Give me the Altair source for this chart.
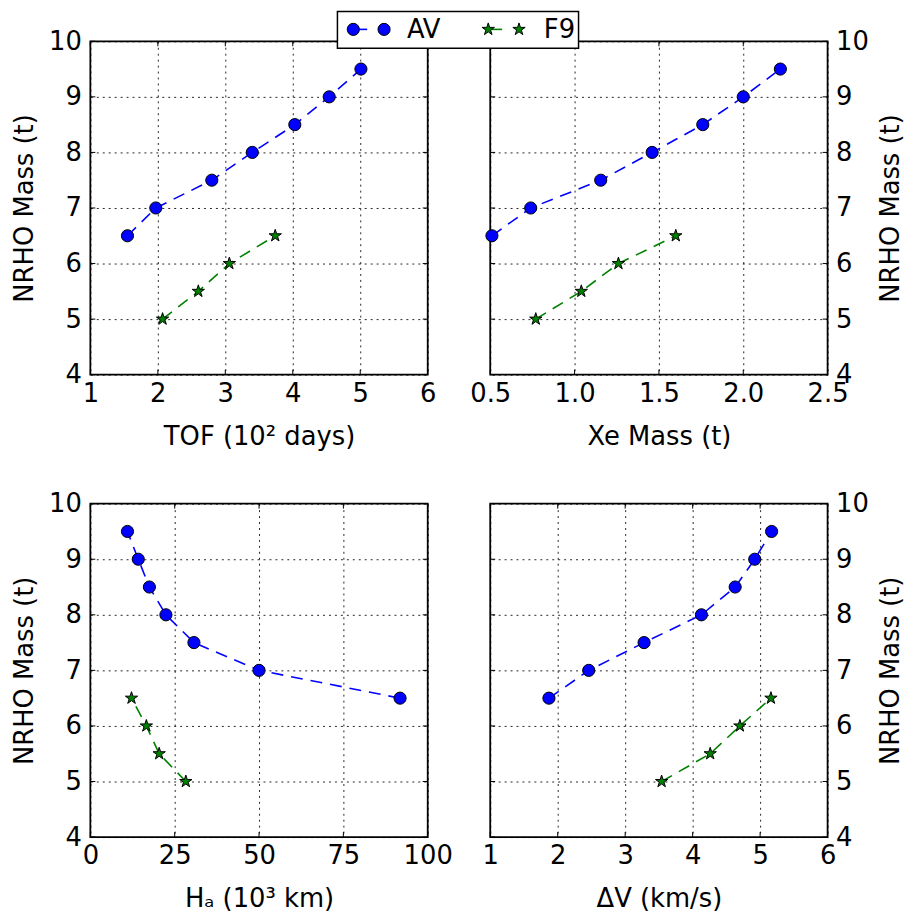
import altair as alt
import pandas as pd

# ---------------- data ----------------
series = ["AV", "F9"]
av_mass = [6.5, 7.0, 7.5, 8.0, 8.5, 9.0, 9.5]
f9_mass = [5.0, 5.5, 6.0, 6.5]

av_tof = [1.55, 1.97, 2.80, 3.40, 4.03, 4.54, 5.01]
f9_tof = [2.07, 2.60, 3.06, 3.74]

av_xe = [0.51, 0.74, 1.155, 1.46, 1.76, 2.00, 2.22]
f9_xe = [0.77, 1.04, 1.26, 1.60]

av_ha = [91.8, 50.0, 30.7, 22.4, 17.5, 14.2, 11.0]
f9_ha = [28.3, 20.4, 16.6, 12.2]

av_dv = [1.87, 2.46, 3.28, 4.13, 4.63, 4.92, 5.17]
f9_dv = [3.54, 4.26, 4.70, 5.16]

y_ticks = [4, 5, 6, 7, 8, 9, 10]
tof_ticks = [1, 2, 3, 4, 5, 6]
xe_ticks = [0.5, 1.0, 1.5, 2.0, 2.5]
ha_ticks = [0, 25, 50, 75, 100]
dv_ticks = [1, 2, 3, 4, 5, 6]

# ---------------- styling ----------------
FONT = "DejaVu Sans"
BLUE = "#0000ff"
GREEN = "#008000"
STAR = ("M0,-1L0.2245,-0.309L0.951,-0.309L0.363,0.118L0.588,0.809L0,0.382"
        "L-0.588,0.809L-0.363,0.118L-0.951,-0.309L-0.2245,-0.309Z")
LABEL_SIZE = 26
TITLE_SIZE = 26
PW = 340
PH = 336
TICK = 5

color_scale = alt.Scale(domain=series, range=[BLUE, GREEN])
shape_scale = alt.Scale(domain=series, range=["circle", STAR])
size_scale = alt.Scale(domain=series, range=[150, 170])


def make_df(av_x, f9_x):
    rows = [{"series": "AV", "x": x, "mass": m} for x, m in zip(av_x, av_mass)]
    rows += [{"series": "F9", "x": x, "mass": m} for x, m in zip(f9_x, f9_mass)]
    return pd.DataFrame(rows)


def panel(df, xdom, xticks, xtitle, xfmt, yorient, extra=None):
    xscale = alt.Scale(domain=xdom, nice=False, zero=False)
    yscale = alt.Scale(domain=[4, 10], nice=False, zero=False)
    xaxis = alt.Axis(values=xticks, format=xfmt, title=xtitle, labelPadding=6,
                     titlePadding=17, labelFlush=False)
    if yorient == "left":
        yaxis = alt.Axis(values=y_ticks, orient="left", title="NRHO Mass (t)",
                         labelPadding=9, titlePadding=11, labelFlush=False)
    else:
        yaxis = alt.Axis(values=y_ticks, orient="right", title="NRHO Mass (t)",
                         labelPadding=8, titlePadding=9, labelFlush=False,
                         titleAngle=270, titleBaseline="top")
    base = alt.Chart(df).encode(
        x=alt.X("x:Q", scale=xscale, axis=xaxis),
        y=alt.Y("mass:Q", scale=yscale, axis=yaxis),
        color=alt.Color("series:N", scale=color_scale, legend=None),
    )
    line = base.mark_line(strokeDash=[12, 8], strokeWidth=1.6).encode(
        order=alt.Order("mass:Q"), detail="series:N")
    pts = base.mark_point(filled=True, opacity=1, stroke="black", strokeWidth=1).encode(
        shape=alt.Shape("series:N", scale=shape_scale, legend=None),
        size=alt.Size("series:N", scale=size_scale, legend=None),
    )
    # inward tick marks on all four sides (matplotlib classic style)
    xt = alt.Chart(pd.DataFrame({"x": xticks}))
    yt = alt.Chart(pd.DataFrame({"mass": y_ticks}))
    tick_layers = [
        xt.mark_rule(color="black", strokeWidth=1).encode(
            x=alt.X("x:Q", scale=xscale, axis=xaxis), y=alt.value(PH), y2=alt.value(PH - TICK)),
        xt.mark_rule(color="black", strokeWidth=1).encode(
            x=alt.X("x:Q", scale=xscale, axis=xaxis), y=alt.value(0), y2=alt.value(TICK)),
        yt.mark_rule(color="black", strokeWidth=1).encode(
            y=alt.Y("mass:Q", scale=yscale, axis=yaxis), x=alt.value(0), x2=alt.value(TICK)),
        yt.mark_rule(color="black", strokeWidth=1).encode(
            y=alt.Y("mass:Q", scale=yscale, axis=yaxis), x=alt.value(PW - TICK), x2=alt.value(PW)),
    ]
    layers = [line, pts] + tick_layers
    if extra:
        layers += extra
    return alt.layer(*layers).properties(width=PW, height=PH)


# ---------------- legend (drawn inside the top-right panel, above the panels) ----------------
leg = pd.DataFrame({"k": [0]})
LY = -12
legend_layers = [
    alt.Chart(leg).mark_rect(fill="white", stroke="black", strokeWidth=1.5).encode(
        x=alt.value(-154), x2=alt.value(89), y=alt.value(-30), y2=alt.value(7)),
    alt.Chart(leg).mark_rule(color=BLUE, strokeWidth=1.6).encode(
        x=alt.value(-138), x2=alt.value(-124), y=alt.value(LY)),
    alt.Chart(leg).mark_point(filled=True, fill=BLUE, stroke="black", strokeWidth=1,
                              opacity=1, shape="circle", size=150).encode(
        x=alt.value(-138), y=alt.value(LY)),
    alt.Chart(leg).mark_point(filled=True, fill=BLUE, stroke="black", strokeWidth=1,
                              opacity=1, shape="circle", size=150).encode(
        x=alt.value(-107), y=alt.value(LY)),
    alt.Chart(leg).mark_text(text="AV", font=FONT, fontSize=LABEL_SIZE, align="left",
                             baseline="middle", color="black").encode(
        x=alt.value(-84), y=alt.value(LY + 1)),
    alt.Chart(leg).mark_rule(color=GREEN, strokeWidth=1.6).encode(
        x=alt.value(-2), x2=alt.value(12), y=alt.value(LY)),
    alt.Chart(leg).mark_point(filled=True, fill=GREEN, stroke="black", strokeWidth=1,
                              opacity=1, shape=STAR, size=170).encode(
        x=alt.value(-2), y=alt.value(LY)),
    alt.Chart(leg).mark_point(filled=True, fill=GREEN, stroke="black", strokeWidth=1,
                              opacity=1, shape=STAR, size=170).encode(
        x=alt.value(29), y=alt.value(LY)),
    alt.Chart(leg).mark_text(text="F9", font=FONT, fontSize=LABEL_SIZE, align="left",
                             baseline="middle", color="black").encode(
        x=alt.value(54), y=alt.value(LY + 1)),
]

tl = panel(make_df(av_tof, f9_tof), [1, 6], tof_ticks, "TOF (10² days)", "d", "left")
tr = panel(make_df(av_xe, f9_xe), [0.5, 2.5], xe_ticks, "Xe Mass (t)", ".1f", "right",
           extra=legend_layers)
bl = panel(make_df(av_ha, f9_ha), [0, 100], ha_ticks, "Hₐ (10³ km)", "d", "left")
br = panel(make_df(av_dv, f9_dv), [1, 6], dv_ticks, "ΔV (km/s)", "d", "right")

chart = alt.concat(tl, tr, bl, br, columns=2, spacing={"row": 130, "column": 63},
                   bounds="flush").properties(
    padding={"left": 3, "top": -2, "right": 0, "bottom": 0}
).configure_view(
    stroke="black", strokeWidth=1.8
).configure_axis(
    labelFont=FONT, titleFont=FONT, labelFontSize=LABEL_SIZE, titleFontSize=TITLE_SIZE,
    titleFontWeight="normal", labelColor="black", titleColor="black",
    domain=False, ticks=False, grid=True, gridColor="black", gridDash=[2, 4],
    gridOpacity=0.85, gridWidth=1,
)

chart.save("out.html", embed_options={"renderer": "svg", "actions": False})
